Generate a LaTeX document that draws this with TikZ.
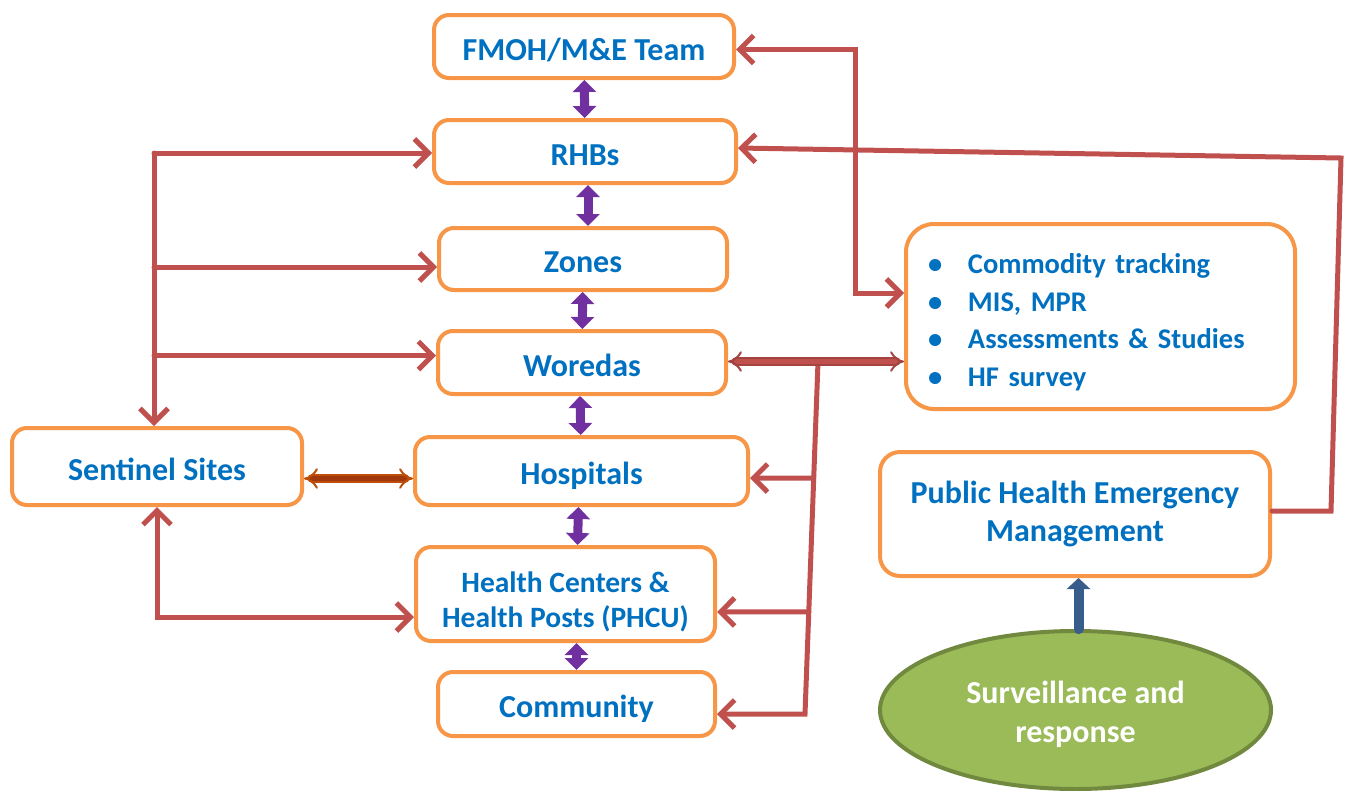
\documentclass[tikz,border=0pt]{standalone}
\usepackage{fontspec}
\setmainfont{Carlito}
\usetikzlibrary{shapes, arrows.meta, calc, positioning}
\definecolor{boxorange}{HTML}{F79646}
\definecolor{txtblue}{HTML}{0070C0}
\definecolor{linkred}{HTML}{C0504D}
\definecolor{levpurple}{HTML}{7030A0}
\definecolor{leafgreen}{HTML}{9BBB59}
\definecolor{leafdark}{HTML}{71893F}
\definecolor{upblue}{HTML}{385D8A}
\definecolor{rustbrown}{HTML}{A0380C}

\begin{document}
\begin{tikzpicture}[x=1pt, y=-1pt, >={Straight Barb[length=14pt,width=28pt]}, line cap=round,
	font=\bfseries\fontsize{32}{38}\selectfont, text=txtblue]
	\tikzset{box/.style={draw=boxorange, line width=4pt, rounded corners=15pt, fill=white, align=center, inner sep=0pt},
		one/.style={box, text height=29pt, text depth=2pt},
		link/.style={draw=linkred, line width=5pt},
		lev/.style={draw=levpurple, line width=9pt, {Triangle[length=12pt,width=23pt]}-{Triangle[length=12pt,width=23pt]}},
		dbl/.style={line width=2pt, double distance=5pt, {Implies}-{Implies}}}
	\useasboundingbox (0,0) rectangle (1352,790);
	\node[one, minimum width=300pt, minimum height=63pt] (fmoh) at (584,46.5) {FMOH/M\&E Team};
	\node[one, minimum width=302pt, minimum height=63pt] (rhb) at (585,151.5) {RHBs};
	\node[one, minimum width=288pt, minimum height=62pt] (zone) at (583,259) {Zones};
	\node[one, minimum width=288pt, minimum height=63pt] (wor) at (582,362.5) {Woredas};
	\node[one, minimum width=333pt, minimum height=68pt] (hosp) at (581.5,471) {Hospitals};
	\node[box, minimum width=299pt, minimum height=94pt, font=\bfseries\fontsize{29.5}{35}\selectfont] (hc) at (565.5,594)
		{\rule{0pt}{36pt}Health Centers \&\\Health Posts (PHCU)};
	\node[one, minimum width=277pt, minimum height=64pt] (comm) at (576.5,704) {Community};
	\node[one, minimum width=290pt, minimum height=77pt] (sent) at (157,466.5) {Sentinel Sites};
	\node[box, minimum width=389pt, minimum height=185pt, rounded corners=28pt, text width=345pt, align=left,
		font=\bfseries\fontsize{28.5}{37.5}\selectfont] (info) at (1100.5,316.5)
		{\rule{0pt}{31pt}\makebox[40pt][l]{•}Commodity tracking\\\makebox[40pt][l]{•}MIS, MPR\\
		\makebox[40pt][l]{•}Assessments \& Studies\\\makebox[40pt][l]{•}HF survey};
	\node[box, minimum width=390pt, minimum height=124pt, rounded corners=20pt] (phem) at (1075,514)
		{Public Health Emergency\\Management};
	\node[ellipse, draw=leafdark, fill=leafgreen, line width=4pt, minimum width=391pt, minimum height=158pt,
		text=white, align=center, font=\bfseries\fontsize{32}{39}\selectfont] (surv) at (1075.5,710)
		{\rule{0pt}{32pt}Surveillance and\\response};

	% levels
	\draw[lev] (fmoh) -- (rhb);
	\draw[lev] ([xshift=3pt]rhb.south) -- ([xshift=5pt]zone.north);
	\draw[lev] (zone) -- (wor);
	\draw[lev] ([xshift=-2pt]wor.south) -- (hosp);
	\draw[lev] ([xshift=-3pt]hosp.south) -- ([xshift=12pt]hc.north);
	\draw[lev] ([xshift=11pt]hc.south) -- (comm);

	% left side
	\coordinate (lt) at (154,153);
	\draw[link,->] (lt) -- (lt |- sent.north);
	\draw[link,->] (lt) -- (lt -| rhb.west);
	\draw[link,->] ([yshift=-8pt]zone.west -| lt) -- ([yshift=-8pt]zone.west);
	\draw[link,->] ([yshift=7pt]wor.west -| lt) -- ([yshift=7pt]wor.west);
	\draw[link,<->] (sent.south) |- ([yshift=-23pt]hc.west);

	% right side
	\coordinate (rt) at (855,293);
	\draw[link,<->] ([yshift=-3pt]fmoh.east) -| (rt) -- (rt -| info.west);
	\coordinate (pa) at (1331,511);
	\coordinate (pb) at (1341,158);
	\draw[link,->] ([yshift=3pt]phem.east) -- (pa) -- (pb) -- ([yshift=3.5pt]rhb.east);
	\coordinate (rtop) at (818,362);
	\coordinate (rbot) at (805,714);
	\draw[link,->] (rtop) -- (rbot) -- ([yshift=-10pt]comm.east);
	\draw[link,->] ($(rtop)!0.33!(rbot)$) -- ([yshift=-7pt]hosp.east);
	\draw[link,->] ($(rtop)!0.71!(rbot)$) -- ([yshift=-18pt]hc.east);
	\draw[dbl, draw=linkred!85!black, double=linkred] ([yshift=1pt]wor.east) -- ([yshift=1pt]wor.east -| info.west);
	\draw[dbl, draw=rustbrown!70!orange, double=rustbrown] ([yshift=-12pt]sent.east) -- ([yshift=-12pt]sent.east -| hosp.west);

	% surveillance
	\draw[upblue, line width=10pt, -{Triangle[length=11pt,width=23pt]}] ([xshift=3pt]surv.north) -- ([xshift=3pt]surv.north |- phem.south);
\end{tikzpicture}
\end{document}
